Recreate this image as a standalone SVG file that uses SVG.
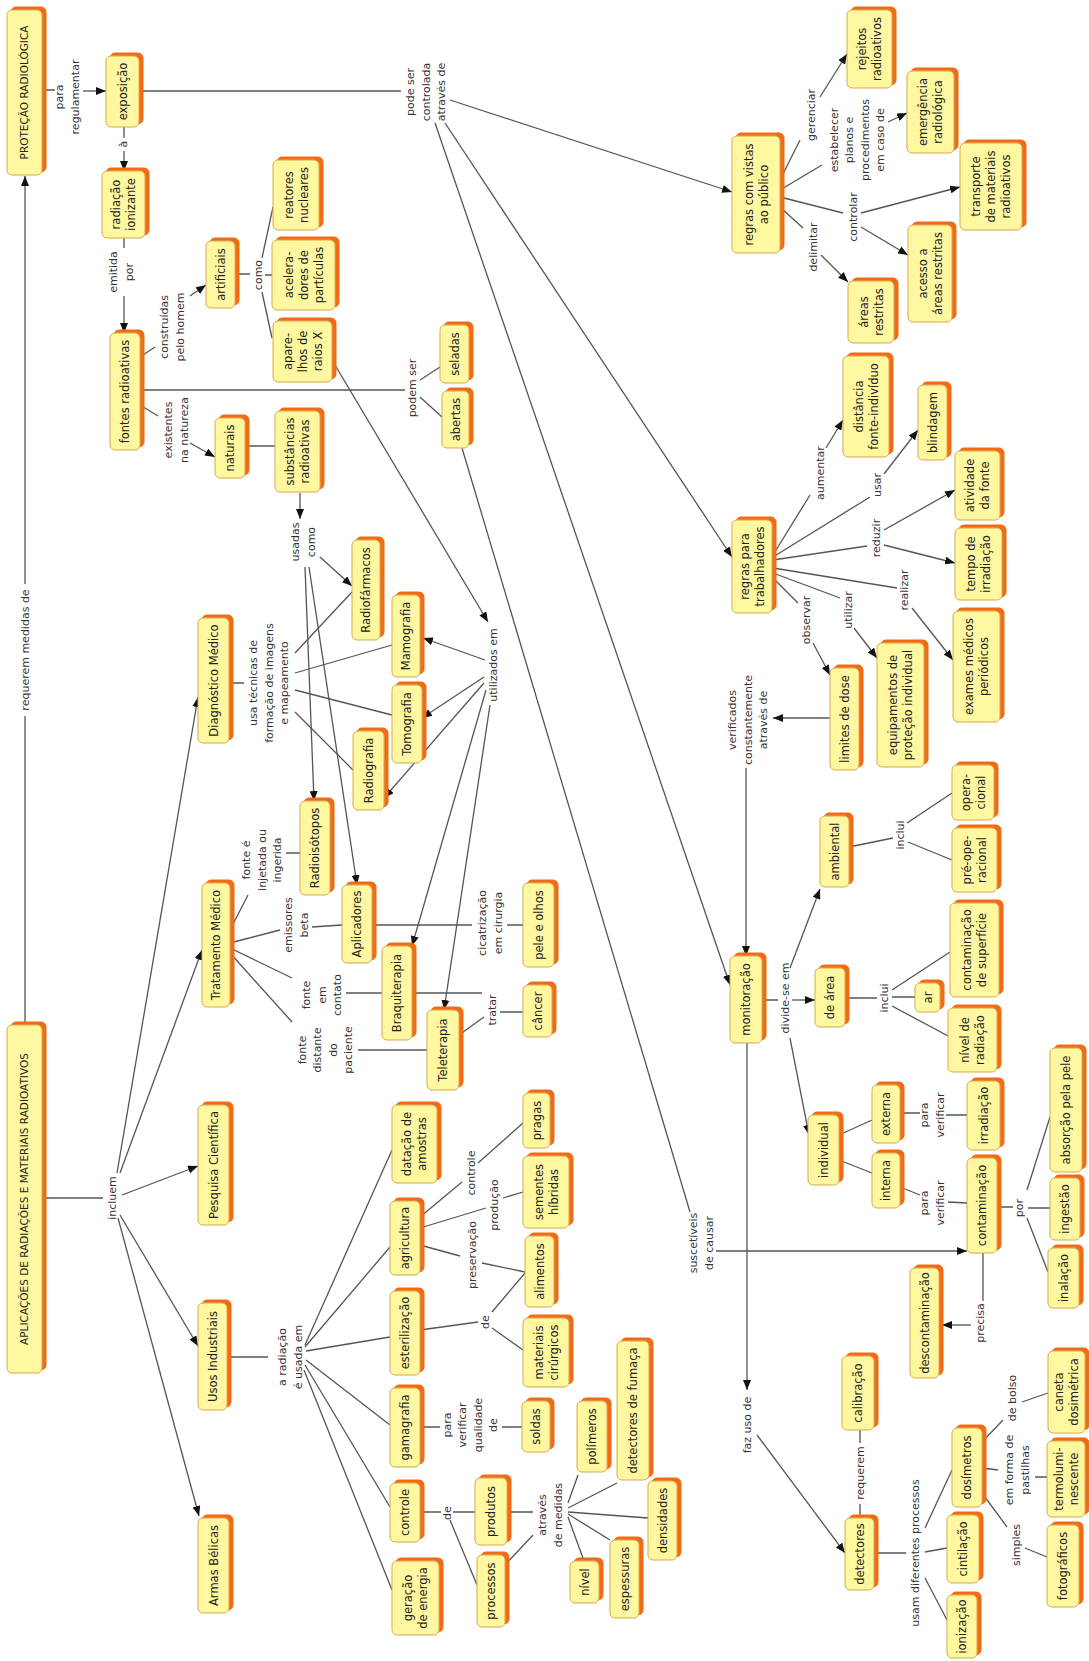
<svg xmlns="http://www.w3.org/2000/svg" width="1089" height="1661" viewBox="0 0 1089 1661">
<style>
.bx{fill:#FFF8A0;stroke:#D9A84A;stroke-width:1;filter:url(#sh)}
.t{font-family:"DejaVu Sans",Verdana,sans-serif;font-size:11.5px;fill:#222;text-anchor:middle}
.T{font-family:"DejaVu Sans",Verdana,sans-serif;font-size:10.5px;fill:#222;text-anchor:middle}
.l{font-family:"DejaVu Sans",Verdana,sans-serif;font-size:11px;fill:#333;text-anchor:middle}
.c{stroke:#555;stroke-width:1.3;fill:none}
.a{stroke:#555;stroke-width:1.3;fill:none;marker-end:url(#ar)}
</style>
<defs>
<filter id="sh" x="-40%" y="-40%" width="180%" height="180%">
<feFlood flood-color="#F26B12"/>
<feComposite in2="SourceAlpha" operator="in"/>
<feOffset dx="3.5" dy="-3.5" result="s"/>
<feMerge><feMergeNode in="s"/><feMergeNode in="SourceGraphic"/></feMerge>
</filter>
<marker id="ar" viewBox="0 0 10 8" refX="10" refY="4" markerWidth="10" markerHeight="8" markerUnits="userSpaceOnUse" orient="auto"><path d="M0,0 L10,4 L0,8 z" fill="#111"/></marker>
</defs>
<rect width="1089" height="1661" fill="#fff"/>
<g id="connectors">
<path class="c" d="M42,90 L55,90 M124,127 L124,138 M124,238 L124,248 M140,357 L155,347 M235,274 L250,274 M262,258 L273,207 M265,275 L272,275 M262,292 L272,338 M139,91 L401,91 M140,390 L405,390 M420,380 L440,367 M420,397 L442,417 M462,448 L690,1212 M140,405 L158,416 M245,446 L275,446 M229,683 L244,683 M295,653 L352,592 M295,673 L392,645 M295,690 L392,715 M295,712 L353,770 M25,1025 L25,716 M42,1198 L103,1198 M230,930 L248,895 M286,853 L300,853 M230,943 L280,930 M312,927 L342,925 M230,948 L292,978 M346,993 L382,993 M230,953 L292,1022 M358,1050 L427,1050 M372,925 L472,925 M507,925 L523,925 M412,993 L482,993 M459,1035 L484,1017 M500,1012 L523,1012 M227,1357 L268,1357 M305,1345 L392,1150 M305,1347 L390,1247 M306,1351 L390,1337 M306,1360 L390,1425 M305,1365 L390,1507 M304,1370 L392,1590 M420,1217 L462,1182 M478,1163 L523,1123 M420,1228 L486,1208 M503,1198 L523,1192 M420,1245 L460,1256 M482,1263 L525,1272 M420,1330 L478,1322 M492,1312 L525,1273 M492,1328 L523,1350 M420,1427 L440,1427 M502,1427 L522,1427 M420,1512 L441,1512 M453,1512 L475,1512 M450,1520 L477,1585 M507,1512 L533,1512 M505,1565 L533,1535 M568,1503 L578,1475 M568,1508 L617,1483 M568,1512 L648,1518 M568,1514 L610,1540 M568,1517 L584,1561 M780,180 L800,140 M780,190 L822,165 M780,197 L843,213 M780,207 L803,228 M773,555 L810,495 M773,557 L870,497 M773,560 L867,546 M773,568 L897,588 M773,573 L840,598 M773,578 L798,603 M762,1000 L778,1000 M849,847 L893,838 M907,823 L952,793 M908,842 L952,860 M845,998 L877,998 M892,997 L915,997 M892,990 L950,952 M892,1006 L950,1037 M839,1135 L872,1120 M839,1160 L872,1173 M900,1113 L920,1113 M946,1115 L967,1115 M900,1187 L920,1195 M948,1202 L967,1203 M997,1207 L1013,1207 M1027,1190 L1050,1117 M1028,1208 L1050,1208 M1027,1218 L1048,1272 M983,1253 L983,1301 M860,1518 L860,1504 M860,1443 L860,1430 M874,1553 L906,1553 M925,1578 L947,1620 M925,1552 L947,1548 M925,1528 L952,1470 M982,1442 L1003,1420 M1022,1402 L1048,1393 M982,1468 L998,1470 M1035,1477 L1047,1477 M982,1493 L1007,1527 M1025,1548 L1047,1557"/>
<path class="a" d="M83,91 L106,91"/>
<path class="a" d="M124,151 L124,171"/>
<path class="a" d="M124,296 L124,333"/>
<path class="a" d="M190,296 L206,285"/>
<path class="a" d="M450,100 L732,192"/>
<path class="a" d="M445,123 L732,557"/>
<path class="a" d="M435,123 L730,985"/>
<path class="a" d="M716,1251 L967,1251"/>
<path class="a" d="M332,360 L488,622"/>
<path class="a" d="M190,443 L215,457"/>
<path class="a" d="M300,493 L300,519"/>
<path class="a" d="M320,557 L352,586"/>
<path class="a" d="M305,567 L314,801"/>
<path class="a" d="M309,567 L357,885"/>
<path class="a" d="M485,660 L423,638"/>
<path class="a" d="M484,677 L422,718"/>
<path class="a" d="M484,683 L384,798"/>
<path class="a" d="M486,690 L412,946"/>
<path class="a" d="M490,705 L444,1010"/>
<path class="a" d="M25,584 L25,176"/>
<path class="a" d="M117,1173 L198,697"/>
<path class="a" d="M120,1173 L202,950"/>
<path class="a" d="M122,1195 L198,1166"/>
<path class="a" d="M120,1215 L198,1346"/>
<path class="a" d="M118,1218 L199,1516"/>
<path class="a" d="M820,97 L847,54"/>
<path class="a" d="M888,122 L907,113"/>
<path class="a" d="M861,213 L960,187"/>
<path class="a" d="M861,227 L908,255"/>
<path class="a" d="M821,255 L848,282"/>
<path class="a" d="M826,448 L843,420"/>
<path class="a" d="M884,474 L918,430"/>
<path class="a" d="M884,530 L955,490"/>
<path class="a" d="M884,545 L955,563"/>
<path class="a" d="M912,608 L953,660"/>
<path class="a" d="M854,628 L877,658"/>
<path class="a" d="M813,643 L830,675"/>
<path class="a" d="M830,718 L773,718"/>
<path class="a" d="M746,768 L746,956"/>
<path class="a" d="M792,1000 L815,1000"/>
<path class="a" d="M790,968 L820,889"/>
<path class="a" d="M790,1038 L809,1135"/>
<path class="a" d="M971,1325 L942,1325"/>
<path class="a" d="M747,1043 L747,1390"/>
<path class="a" d="M757,1435 L845,1553"/>
</g>
<g id="labels">
<text class="l" transform="rotate(-90 67 97)"><tspan x="67" y="93">para</tspan><tspan x="67" y="108.5">regulamentar</tspan></text>
<text class="l" transform="rotate(-90 123 144)" x="123" y="147.8">à</text>
<text class="l" transform="rotate(-90 121 272)"><tspan x="121" y="268">emitida</tspan><tspan x="121" y="283.5">por</tspan></text>
<text class="l" transform="rotate(-90 172 327)"><tspan x="172" y="323">construídas</tspan><tspan x="172" y="338.5">pelo homem</tspan></text>
<text class="l" transform="rotate(-90 258 275)" x="258" y="278.8">como</text>
<text class="l" transform="rotate(-90 426 92)"><tspan x="426" y="80.3">pode ser</tspan><tspan x="426" y="95.8">controlada</tspan><tspan x="426" y="111.3">através de</tspan></text>
<text class="l" transform="rotate(-90 412 388)" x="412" y="391.8">podem ser</text>
<text class="l" transform="rotate(-90 176 430)"><tspan x="176" y="426">existentes</tspan><tspan x="176" y="441.5">na natureza</tspan></text>
<text class="l" transform="rotate(-90 303 542)"><tspan x="303" y="538">usadas</tspan><tspan x="303" y="553.5">como</tspan></text>
<text class="l" transform="rotate(-90 269 683)"><tspan x="269" y="671.3">usa técnicas de</tspan><tspan x="269" y="686.8">formação de imagens</tspan><tspan x="269" y="702.3">e mapeamento</tspan></text>
<text class="l" transform="rotate(-90 493 665)" x="493" y="668.8">utilizados em</text>
<text class="l" transform="rotate(-90 811 115)" x="811" y="118.8">gerenciar</text>
<text class="l" transform="rotate(-90 857 140)"><tspan x="857" y="120.5">estabelecer</tspan><tspan x="857" y="136">planos e</tspan><tspan x="857" y="151.5">procedimentos</tspan><tspan x="857" y="167">em caso de</tspan></text>
<text class="l" transform="rotate(-90 853 217)" x="853" y="220.8">controlar</text>
<text class="l" transform="rotate(-90 813 247)" x="813" y="250.8">delimitar</text>
<text class="l" transform="rotate(-90 820 473)" x="820" y="476.8">aumentar</text>
<text class="l" transform="rotate(-90 877 485)" x="877" y="488.8">usar</text>
<text class="l" transform="rotate(-90 876 538)" x="876" y="541.8">reduzir</text>
<text class="l" transform="rotate(-90 904 590)" x="904" y="593.8">realizar</text>
<text class="l" transform="rotate(-90 848 610)" x="848" y="613.8">utilizar</text>
<text class="l" transform="rotate(-90 806 620)" x="806" y="623.8">observar</text>
<text class="l" transform="rotate(-90 748 720)"><tspan x="748" y="708.3">verificados</tspan><tspan x="748" y="723.8">constantemente</tspan><tspan x="748" y="739.3">através de</tspan></text>
<text class="l" transform="rotate(-90 785 998)" x="785" y="1001.8">divide-se em</text>
<text class="l" transform="rotate(-90 900 835)" x="900" y="838.8">inclui</text>
<text class="l" transform="rotate(-90 884 998)" x="884" y="1001.8">inclui</text>
<text class="l" transform="rotate(-90 932 1115)"><tspan x="932" y="1111">para</tspan><tspan x="932" y="1126.5">verificar</tspan></text>
<text class="l" transform="rotate(-90 932 1203)"><tspan x="932" y="1199">para</tspan><tspan x="932" y="1214.5">verificar</tspan></text>
<text class="l" transform="rotate(-90 1019 1208)" x="1019" y="1211.8">por</text>
<text class="l" transform="rotate(-90 980 1323)" x="980" y="1326.8">precisa</text>
<text class="l" transform="rotate(-90 701 1243)"><tspan x="701" y="1239">suscetíveis</tspan><tspan x="701" y="1254.5">de causar</tspan></text>
<text class="l" transform="rotate(-90 747 1425)" x="747" y="1428.8">faz uso de</text>
<text class="l" transform="rotate(-90 860 1473)" x="860" y="1476.8">requerem</text>
<text class="l" transform="rotate(-90 915 1553)" x="915" y="1556.8">usam diferentes processos</text>
<text class="l" transform="rotate(-90 1012 1398)" x="1012" y="1401.8">de bolso</text>
<text class="l" transform="rotate(-90 1017 1470)"><tspan x="1017" y="1466">em forma de</tspan><tspan x="1017" y="1481.5">pastilhas</tspan></text>
<text class="l" transform="rotate(-90 1016 1545)" x="1016" y="1548.8">simples</text>
<text class="l" transform="rotate(-90 25 650)" x="25" y="653.8">requerem medidas de</text>
<text class="l" transform="rotate(-90 112 1198)" x="112" y="1201.8">incluem</text>
<text class="l" transform="rotate(-90 262 860)"><tspan x="262" y="848.3">fonte é</tspan><tspan x="262" y="863.8">injetada ou</tspan><tspan x="262" y="879.3">ingerida</tspan></text>
<text class="l" transform="rotate(-90 296 925)"><tspan x="296" y="921">emissores</tspan><tspan x="296" y="936.5">beta</tspan></text>
<text class="l" transform="rotate(-90 322 995)"><tspan x="322" y="983.3">fonte</tspan><tspan x="322" y="998.8">em</tspan><tspan x="322" y="1014.3">contato</tspan></text>
<text class="l" transform="rotate(-90 325 1050)"><tspan x="325" y="1030.5">fonte</tspan><tspan x="325" y="1046">distante</tspan><tspan x="325" y="1061.5">do</tspan><tspan x="325" y="1077">paciente</tspan></text>
<text class="l" transform="rotate(-90 490 923)"><tspan x="490" y="919">cicatrização</tspan><tspan x="490" y="934.5">em cirurgia</tspan></text>
<text class="l" transform="rotate(-90 492 1010)" x="492" y="1013.8">tratar</text>
<text class="l" transform="rotate(-90 471 1173)" x="471" y="1176.8">controle</text>
<text class="l" transform="rotate(-90 494 1205)" x="494" y="1208.8">produção</text>
<text class="l" transform="rotate(-90 472 1255)" x="472" y="1258.8">preservação</text>
<text class="l" transform="rotate(-90 485 1322)" x="485" y="1325.8">de</text>
<text class="l" transform="rotate(-90 290 1357)"><tspan x="290" y="1353">a radiação</tspan><tspan x="290" y="1368.5">é usada em</tspan></text>
<text class="l" transform="rotate(-90 470 1425)"><tspan x="470" y="1405.5">para</tspan><tspan x="470" y="1421">verificar</tspan><tspan x="470" y="1436.5">qualidade</tspan><tspan x="470" y="1452">de</tspan></text>
<text class="l" transform="rotate(-90 447 1513)" x="447" y="1516.8">de</text>
<text class="l" transform="rotate(-90 550 1515)"><tspan x="550" y="1511">através</tspan><tspan x="550" y="1526.5">de medidas</tspan></text>
</g>
<g id="n-protecao"><rect class="bx" x="7" y="10" width="35" height="165" rx="5"/><text class="T" transform="rotate(-90 24.5 92.5)" x="24.5" y="96.3">PROTEÇÃO RADIOLÓGICA</text></g>
<g id="n-exposicao"><rect class="bx" x="106" y="56" width="33" height="71" rx="5"/><text class="t" transform="rotate(-90 122.5 91.5)" x="122.5" y="95.5">exposição</text></g>
<g id="n-radiacao"><rect class="bx" x="102" y="171" width="43" height="67" rx="5"/><text class="t" transform="rotate(-90 123.5 204.5)"><tspan x="123.5" y="201">radiação</tspan><tspan x="123.5" y="216">ionizante</tspan></text></g>
<g id="n-artificiais"><rect class="bx" x="206" y="241" width="29" height="67" rx="5"/><text class="t" transform="rotate(-90 220.5 274.5)" x="220.5" y="278.5">artificiais</text></g>
<g id="n-reatores"><rect class="bx" x="273" y="160" width="46" height="70" rx="5"/><text class="t" transform="rotate(-90 296 195)"><tspan x="296" y="191.5">reatores</tspan><tspan x="296" y="206.5">nucleares</tspan></text></g>
<g id="n-aceleradores"><rect class="bx" x="272" y="240" width="63" height="70" rx="5"/><text class="t" transform="rotate(-90 303.5 275)"><tspan x="303.5" y="264">acelera-</tspan><tspan x="303.5" y="279">dores de</tspan><tspan x="303.5" y="294">partículas</tspan></text></g>
<g id="n-aparelhos"><rect class="bx" x="273" y="321" width="59" height="61" rx="5"/><text class="t" transform="rotate(-90 302.5 351.5)"><tspan x="302.5" y="340.5">apare-</tspan><tspan x="302.5" y="355.5">lhos de</tspan><tspan x="302.5" y="370.5">raios X</tspan></text></g>
<g id="n-fontes"><rect class="bx" x="110" y="333" width="30" height="117" rx="5"/><text class="t" transform="rotate(-90 125 391.5)" x="125" y="395.5">fontes radioativas</text></g>
<g id="n-naturais"><rect class="bx" x="215" y="418" width="30" height="60" rx="5"/><text class="t" transform="rotate(-90 230 448)" x="230" y="452">naturais</text></g>
<g id="n-substancias"><rect class="bx" x="275" y="411" width="45" height="81" rx="5"/><text class="t" transform="rotate(-90 297.5 451.5)"><tspan x="297.5" y="448">substâncias</tspan><tspan x="297.5" y="463">radioativas</tspan></text></g>
<g id="n-seladas"><rect class="bx" x="440" y="325" width="29" height="58" rx="5"/><text class="t" transform="rotate(-90 454.5 354)" x="454.5" y="358">seladas</text></g>
<g id="n-abertas"><rect class="bx" x="442" y="391" width="27" height="57" rx="5"/><text class="t" transform="rotate(-90 455.5 419.5)" x="455.5" y="423.5">abertas</text></g>
<g id="n-regras-publico"><rect class="bx" x="732" y="136" width="48" height="117" rx="5"/><text class="t" transform="rotate(-90 756 194.5)"><tspan x="756" y="191">regras com vistas</tspan><tspan x="756" y="206">ao público</tspan></text></g>
<g id="n-rejeitos"><rect class="bx" x="847" y="10" width="45" height="78" rx="5"/><text class="t" transform="rotate(-90 869.5 49)"><tspan x="869.5" y="45.5">rejeitos</tspan><tspan x="869.5" y="60.5">radioativos</tspan></text></g>
<g id="n-emergencia"><rect class="bx" x="907" y="71" width="47" height="82" rx="5"/><text class="t" transform="rotate(-90 930.5 112)"><tspan x="930.5" y="108.5">emergência</tspan><tspan x="930.5" y="123.5">radiológica</tspan></text></g>
<g id="n-transporte"><rect class="bx" x="960" y="143" width="62" height="87" rx="5"/><text class="t" transform="rotate(-90 991 186.5)"><tspan x="991" y="175.5">transporte</tspan><tspan x="991" y="190.5">de materiais</tspan><tspan x="991" y="205.5">radioativos</tspan></text></g>
<g id="n-acesso"><rect class="bx" x="908" y="225" width="44" height="97" rx="5"/><text class="t" transform="rotate(-90 930 273.5)"><tspan x="930" y="270">acesso a</tspan><tspan x="930" y="285">áreas restritas</tspan></text></g>
<g id="n-areas"><rect class="bx" x="848" y="281" width="46" height="62" rx="5"/><text class="t" transform="rotate(-90 871 312)"><tspan x="871" y="308.5">áreas</tspan><tspan x="871" y="323.5">restritas</tspan></text></g>
<g id="n-regras-trab"><rect class="bx" x="732" y="520" width="40" height="93" rx="5"/><text class="t" transform="rotate(-90 752 566.5)"><tspan x="752" y="563">regras para</tspan><tspan x="752" y="578">trabalhadores</tspan></text></g>
<g id="n-distancia"><rect class="bx" x="843" y="356" width="46" height="101" rx="5"/><text class="t" transform="rotate(-90 866 406.5)"><tspan x="866" y="403">distância</tspan><tspan x="866" y="418">fonte-indivíduo</tspan></text></g>
<g id="n-blindagem"><rect class="bx" x="918" y="385" width="29" height="75" rx="5"/><text class="t" transform="rotate(-90 932.5 422.5)" x="932.5" y="426.5">blindagem</text></g>
<g id="n-atividade"><rect class="bx" x="955" y="451" width="45" height="69" rx="5"/><text class="t" transform="rotate(-90 977.5 485.5)"><tspan x="977.5" y="482">atividade</tspan><tspan x="977.5" y="497">da fonte</tspan></text></g>
<g id="n-tempo"><rect class="bx" x="955" y="528" width="47" height="72" rx="5"/><text class="t" transform="rotate(-90 978.5 564)"><tspan x="978.5" y="560.5">tempo de</tspan><tspan x="978.5" y="575.5">irradiação</tspan></text></g>
<g id="n-exames"><rect class="bx" x="953" y="611" width="47" height="111" rx="5"/><text class="t" transform="rotate(-90 976.5 666.5)"><tspan x="976.5" y="663">exames médicos</tspan><tspan x="976.5" y="678">periódicos</tspan></text></g>
<g id="n-equipamentos"><rect class="bx" x="877" y="643" width="47" height="124" rx="5"/><text class="t" transform="rotate(-90 900.5 705)"><tspan x="900.5" y="701.5">equipamentos de</tspan><tspan x="900.5" y="716.5">proteção individual</tspan></text></g>
<g id="n-limites"><rect class="bx" x="830" y="668" width="29" height="102" rx="5"/><text class="t" transform="rotate(-90 844.5 719)" x="844.5" y="723">limites de dose</text></g>
<g id="n-monitoracao"><rect class="bx" x="730" y="956" width="32" height="87" rx="5"/><text class="t" transform="rotate(-90 746 999.5)" x="746" y="1003.5">monitoração</text></g>
<g id="n-ambiental"><rect class="bx" x="820" y="816" width="29" height="71" rx="5"/><text class="t" transform="rotate(-90 834.5 851.5)" x="834.5" y="855.5">ambiental</text></g>
<g id="n-de-area"><rect class="bx" x="815" y="968" width="30" height="59" rx="5"/><text class="t" transform="rotate(-90 830 997.5)" x="830" y="1001.5">de área</text></g>
<g id="n-individual"><rect class="bx" x="808" y="1115" width="31" height="70" rx="5"/><text class="t" transform="rotate(-90 823.5 1150)" x="823.5" y="1154">individual</text></g>
<g id="n-operacional"><rect class="bx" x="952" y="765" width="42" height="55" rx="5"/><text class="t" transform="rotate(-90 973 792.5)"><tspan x="973" y="789">opera-</tspan><tspan x="973" y="804">cional</tspan></text></g>
<g id="n-preoperacional"><rect class="bx" x="952" y="828" width="45" height="64" rx="5"/><text class="t" transform="rotate(-90 974.5 860)"><tspan x="974.5" y="856.5">pré-ope-</tspan><tspan x="974.5" y="871.5">racional</tspan></text></g>
<g id="n-cont-superficie"><rect class="bx" x="950" y="903" width="49" height="94" rx="5"/><text class="t" transform="rotate(-90 974.5 950)"><tspan x="974.5" y="946.5">contaminação</tspan><tspan x="974.5" y="961.5">de superfície</tspan></text></g>
<g id="n-ar"><rect class="bx" x="915" y="983" width="25" height="29" rx="5"/><text class="t" transform="rotate(-90 927.5 997.5)" x="927.5" y="1001.5">ar</text></g>
<g id="n-nivel-radiacao"><rect class="bx" x="948" y="1008" width="49" height="64" rx="5"/><text class="t" transform="rotate(-90 972.5 1040)"><tspan x="972.5" y="1036.5">nível de</tspan><tspan x="972.5" y="1051.5">radiação</tspan></text></g>
<g id="n-externa"><rect class="bx" x="872" y="1085" width="28" height="58" rx="5"/><text class="t" transform="rotate(-90 886 1114)" x="886" y="1118">externa</text></g>
<g id="n-interna"><rect class="bx" x="872" y="1153" width="28" height="55" rx="5"/><text class="t" transform="rotate(-90 886 1180.5)" x="886" y="1184.5">interna</text></g>
<g id="n-irradiacao"><rect class="bx" x="967" y="1081" width="33" height="69" rx="5"/><text class="t" transform="rotate(-90 983.5 1115.5)" x="983.5" y="1119.5">irradiação</text></g>
<g id="n-contaminacao"><rect class="bx" x="967" y="1158" width="30" height="95" rx="5"/><text class="t" transform="rotate(-90 982 1205.5)" x="982" y="1209.5">contaminação</text></g>
<g id="n-absorcao"><rect class="bx" x="1050" y="1048" width="32" height="124" rx="5"/><text class="t" transform="rotate(-90 1066 1110)" x="1066" y="1114">absorção pela pele</text></g>
<g id="n-ingestao"><rect class="bx" x="1050" y="1178" width="30" height="62" rx="5"/><text class="t" transform="rotate(-90 1065 1209)" x="1065" y="1213">ingestão</text></g>
<g id="n-inalacao"><rect class="bx" x="1048" y="1248" width="31" height="60" rx="5"/><text class="t" transform="rotate(-90 1063.5 1278)" x="1063.5" y="1282">inalação</text></g>
<g id="n-descontaminacao"><rect class="bx" x="910" y="1268" width="29" height="110" rx="5"/><text class="t" transform="rotate(-90 924.5 1323)" x="924.5" y="1327">descontaminação</text></g>
<g id="n-calibracao"><rect class="bx" x="842" y="1356" width="32" height="74" rx="5"/><text class="t" transform="rotate(-90 858 1393)" x="858" y="1397">calibração</text></g>
<g id="n-detectores"><rect class="bx" x="845" y="1518" width="29" height="72" rx="5"/><text class="t" transform="rotate(-90 859.5 1554)" x="859.5" y="1558">detectores</text></g>
<g id="n-ionizacao"><rect class="bx" x="947" y="1595" width="30" height="63" rx="5"/><text class="t" transform="rotate(-90 962 1626.5)" x="962" y="1630.5">ionização</text></g>
<g id="n-cintilacao"><rect class="bx" x="947" y="1515" width="32" height="68" rx="5"/><text class="t" transform="rotate(-90 963 1549)" x="963" y="1553">cintilação</text></g>
<g id="n-dosimetros"><rect class="bx" x="952" y="1428" width="30" height="79" rx="5"/><text class="t" transform="rotate(-90 967 1467.5)" x="967" y="1471.5">dosímetros</text></g>
<g id="n-caneta"><rect class="bx" x="1048" y="1351" width="37" height="82" rx="5"/><text class="t" transform="rotate(-90 1066.5 1392)"><tspan x="1066.5" y="1388.5">caneta</tspan><tspan x="1066.5" y="1403.5">dosimétrica</tspan></text></g>
<g id="n-termoluminescente"><rect class="bx" x="1047" y="1441" width="38" height="76" rx="5"/><text class="t" transform="rotate(-90 1066 1479)"><tspan x="1066" y="1475.5">termolumi-</tspan><tspan x="1066" y="1490.5">nescente</tspan></text></g>
<g id="n-fotograficos"><rect class="bx" x="1047" y="1525" width="32" height="82" rx="5"/><text class="t" transform="rotate(-90 1063 1566)" x="1063" y="1570">fotográficos</text></g>
<g id="n-aplicacoes"><rect class="bx" x="7" y="1025" width="35" height="348" rx="5"/><text class="T" transform="rotate(-90 24.5 1199)" x="24.5" y="1202.8">APLICAÇÕES DE RADIAÇÕES E MATERIAIS RADIOATIVOS</text></g>
<g id="n-diagnostico"><rect class="bx" x="198" y="618" width="31" height="125" rx="5"/><text class="t" transform="rotate(-90 213.5 680.5)" x="213.5" y="684.5">Diagnóstico Médico</text></g>
<g id="n-tratamento"><rect class="bx" x="202" y="883" width="28" height="124" rx="5"/><text class="t" transform="rotate(-90 216 945)" x="216" y="949">Tratamento Médico</text></g>
<g id="n-pesquisa"><rect class="bx" x="198" y="1105" width="31" height="120" rx="5"/><text class="t" transform="rotate(-90 213.5 1165)" x="213.5" y="1169">Pesquisa Científica</text></g>
<g id="n-usos"><rect class="bx" x="198" y="1303" width="29" height="107" rx="5"/><text class="t" transform="rotate(-90 212.5 1356.5)" x="212.5" y="1360.5">Usos Industriais</text></g>
<g id="n-armas"><rect class="bx" x="198" y="1518" width="31" height="95" rx="5"/><text class="t" transform="rotate(-90 213.5 1565.5)" x="213.5" y="1569.5">Armas Bélicas</text></g>
<g id="n-radiofarmacos"><rect class="bx" x="352" y="540" width="28" height="100" rx="5"/><text class="t" transform="rotate(-90 366 590)" x="366" y="594">Radiofármacos</text></g>
<g id="n-mamografia"><rect class="bx" x="392" y="595" width="28" height="82" rx="5"/><text class="t" transform="rotate(-90 406 636)" x="406" y="640">Mamografia</text></g>
<g id="n-tomografia"><rect class="bx" x="392" y="685" width="30" height="78" rx="5"/><text class="t" transform="rotate(-90 407 724)" x="407" y="728">Tomografia</text></g>
<g id="n-radiografia"><rect class="bx" x="353" y="731" width="31" height="79" rx="5"/><text class="t" transform="rotate(-90 368.5 770.5)" x="368.5" y="774.5">Radiografia</text></g>
<g id="n-radioisotopos"><rect class="bx" x="300" y="801" width="30" height="94" rx="5"/><text class="t" transform="rotate(-90 315 848)" x="315" y="852">Radioisótopos</text></g>
<g id="n-aplicadores"><rect class="bx" x="342" y="885" width="30" height="78" rx="5"/><text class="t" transform="rotate(-90 357 924)" x="357" y="928">Aplicadores</text></g>
<g id="n-braquiterapia"><rect class="bx" x="382" y="946" width="30" height="94" rx="5"/><text class="t" transform="rotate(-90 397 993)" x="397" y="997">Braquiterapia</text></g>
<g id="n-teleterapia"><rect class="bx" x="427" y="1010" width="32" height="80" rx="5"/><text class="t" transform="rotate(-90 443 1050)" x="443" y="1054">Teleterapia</text></g>
<g id="n-pele"><rect class="bx" x="523" y="883" width="31" height="84" rx="5"/><text class="t" transform="rotate(-90 538.5 925)" x="538.5" y="929">pele e olhos</text></g>
<g id="n-cancer"><rect class="bx" x="523" y="985" width="29" height="52" rx="5"/><text class="t" transform="rotate(-90 537.5 1011)" x="537.5" y="1015">câncer</text></g>
<g id="n-datacao"><rect class="bx" x="392" y="1105" width="45" height="78" rx="5"/><text class="t" transform="rotate(-90 414.5 1144)"><tspan x="414.5" y="1140.5">datação de</tspan><tspan x="414.5" y="1155.5">amostras</tspan></text></g>
<g id="n-pragas"><rect class="bx" x="523" y="1093" width="27" height="55" rx="5"/><text class="t" transform="rotate(-90 536.5 1120.5)" x="536.5" y="1124.5">pragas</text></g>
<g id="n-sementes"><rect class="bx" x="523" y="1156" width="46" height="72" rx="5"/><text class="t" transform="rotate(-90 546 1192)"><tspan x="546" y="1188.5">sementes</tspan><tspan x="546" y="1203.5">híbridas</tspan></text></g>
<g id="n-agricultura"><rect class="bx" x="390" y="1201" width="30" height="74" rx="5"/><text class="t" transform="rotate(-90 405 1238)" x="405" y="1242">agricultura</text></g>
<g id="n-alimentos"><rect class="bx" x="525" y="1236" width="29" height="71" rx="5"/><text class="t" transform="rotate(-90 539.5 1271.5)" x="539.5" y="1275.5">alimentos</text></g>
<g id="n-esterilizacao"><rect class="bx" x="390" y="1291" width="30" height="84" rx="5"/><text class="t" transform="rotate(-90 405 1333)" x="405" y="1337">esterilização</text></g>
<g id="n-materiais"><rect class="bx" x="523" y="1318" width="46" height="69" rx="5"/><text class="t" transform="rotate(-90 546 1352.5)"><tspan x="546" y="1349">materiais</tspan><tspan x="546" y="1364">cirúrgicos</tspan></text></g>
<g id="n-gamagrafia"><rect class="bx" x="390" y="1388" width="30" height="79" rx="5"/><text class="t" transform="rotate(-90 405 1427.5)" x="405" y="1431.5">gamagrafia</text></g>
<g id="n-soldas"><rect class="bx" x="522" y="1401" width="28" height="51" rx="5"/><text class="t" transform="rotate(-90 536 1426.5)" x="536" y="1430.5">soldas</text></g>
<g id="n-controle"><rect class="bx" x="390" y="1483" width="30" height="59" rx="5"/><text class="t" transform="rotate(-90 405 1512.5)" x="405" y="1516.5">controle</text></g>
<g id="n-geracao"><rect class="bx" x="392" y="1561" width="47" height="74" rx="5"/><text class="t" transform="rotate(-90 415.5 1598)"><tspan x="415.5" y="1594.5">geração</tspan><tspan x="415.5" y="1609.5">de energia</tspan></text></g>
<g id="n-produtos"><rect class="bx" x="475" y="1478" width="32" height="67" rx="5"/><text class="t" transform="rotate(-90 491 1511.5)" x="491" y="1515.5">produtos</text></g>
<g id="n-processos"><rect class="bx" x="477" y="1555" width="28" height="72" rx="5"/><text class="t" transform="rotate(-90 491 1591)" x="491" y="1595">processos</text></g>
<g id="n-polimeros"><rect class="bx" x="577" y="1401" width="30" height="71" rx="5"/><text class="t" transform="rotate(-90 592 1436.5)" x="592" y="1440.5">polímeros</text></g>
<g id="n-fumaca"><rect class="bx" x="617" y="1341" width="32" height="139" rx="5"/><text class="t" transform="rotate(-90 633 1410.5)" x="633" y="1414.5">detectores de fumaça</text></g>
<g id="n-densidades"><rect class="bx" x="648" y="1481" width="29" height="79" rx="5"/><text class="t" transform="rotate(-90 662.5 1520.5)" x="662.5" y="1524.5">densidades</text></g>
<g id="n-espessuras"><rect class="bx" x="610" y="1540" width="29" height="78" rx="5"/><text class="t" transform="rotate(-90 624.5 1579)" x="624.5" y="1583">espessuras</text></g>
<g id="n-nivel"><rect class="bx" x="570" y="1561" width="29" height="42" rx="5"/><text class="t" transform="rotate(-90 584.5 1582)" x="584.5" y="1586">nível</text></g>
</svg>
